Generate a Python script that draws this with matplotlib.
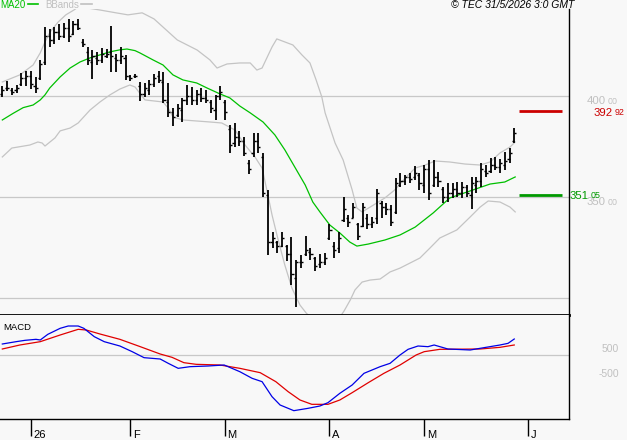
import matplotlib
matplotlib.use("Agg")
import matplotlib.pyplot as plt
from matplotlib.lines import Line2D
from matplotlib import transforms

W, H = 627, 440
BG = "#f8f8f8"
GRID = "#c8c8c8"
BAND = "#c4c4c4"
MA_GREEN = "#00c000"
FONT = ["Liberation Sans", "DejaVu Sans"]

# ---- daily bars (bar index 0..108) ----
high = [405.1, 407.6, 404.1, 405.6, 411.6, 412.6, 412.6, 409.6, 418.0, 434.3,
        433.3, 434.3, 435.8, 436.3, 438.3, 437.3, 438.3, 428.4, 424.4, 422.9,
        421.9, 423.9, 423.4, 434.8, 421.0, 424.4, 420.5, 410.6, 411.1, 407.1,
        406.6, 408.1, 411.1, 412.6, 412.1, 406.6, 394.2, 396.2, 399.2, 405.6,
        404.6, 403.1, 404.1, 403.1, 398.2, 400.7, 405.1, 398.2, 385.8, 386.8,
        382.9, 379.9, 368.5, 381.9, 381.9, 372.0, 353.7, 332.9, 328.4, 332.9,
        326.4, 330.4, 319.0, 321.5, 330.9, 324.9, 320.5, 322.0, 322.5, 336.8,
        327.9, 332.9, 350.2, 341.3, 347.2, 337.3, 347.2, 341.8, 340.3, 354.1,
        348.2, 347.2, 346.2, 359.6, 362.1, 361.1, 362.1, 365.5, 362.1, 366.0,
        368.5, 368.5, 362.6, 355.1, 357.1, 357.1, 357.6, 357.6, 356.1, 360.1,
        360.1, 367.0, 366.0, 369.5, 370.0, 369.0, 372.5, 374.4, 384.3]
low = [399.7, 402.7, 400.7, 401.7, 405.1, 405.1, 403.6, 401.7, 408.1, 415.5,
       424.4, 425.9, 427.9, 428.9, 426.9, 430.4, 432.9, 424.4, 415.5, 408.6,
       415.5, 416.5, 419.0, 412.1, 412.1, 416.0, 408.1, 407.6, 409.1, 397.7,
       399.7, 400.7, 404.6, 406.6, 396.7, 389.8, 385.3, 389.8, 387.3, 395.7,
       395.7, 395.7, 397.2, 396.7, 391.8, 388.3, 398.2, 388.3, 372.0, 374.9,
       375.4, 370.5, 361.6, 370.0, 372.0, 350.2, 321.5, 325.0, 322.4, 325.4,
       318.5, 306.6, 295.7, 315.0, 321.0, 319.0, 313.5, 315.0, 316.5, 328.9,
       320.0, 322.5, 337.8, 335.3, 339.8, 328.9, 335.3, 334.4, 334.8, 336.8,
       339.8, 341.3, 335.8, 341.8, 355.1, 356.1, 357.1, 358.6, 353.7, 352.2,
       348.7, 355.1, 355.1, 347.2, 347.7, 349.7, 350.2, 349.7, 350.2, 344.2,
       352.2, 355.1, 360.1, 362.1, 363.6, 362.1, 363.6, 367.0, 376.9]
opens = [401, 404, 403, 403, 406, 409, 410, 405, 409, 417,
         430, 428, 432, 430, 434, 431, 436, 427, 422, 417,
         419, 418, 420, 422, 419, 418, 419, 410, 410, 405,
         401, 403, 406, 410, 407, 397, 392, 391, 393, 398,
         400, 398, 401, 399, 397, 393, 400, 397, 384, 377,
         380, 378, 367, 372, 378, 370, 351, 328, 328, 326,
         326, 322, 310, 318, 322, 323, 320, 317, 318, 330,
         326, 325, 339, 340, 340, 337, 336, 340, 337, 340,
         347, 345, 344, 343, 356, 358, 360, 360, 361, 356,
         364, 356, 360, 354, 350, 352, 354, 352, 355, 351,
         356, 358, 363, 363, 366, 365, 366, 369, 378]
closes = [403, 404, 402, 404, 409, 410, 406, 404, 416, 430,
          428, 432, 430, 434, 430, 436, 434, 426, 418, 420,
          418, 421, 421, 420, 418, 420, 410, 409, 410, 401,
          404, 406, 409, 408, 398, 392, 390, 394, 398, 400,
          398, 401, 399, 398, 394, 400, 402, 392, 376, 380,
          378, 372, 364, 378, 375, 352, 328, 330, 326, 330,
          322, 312, 318, 318, 324, 322, 316, 318, 320, 334,
          324, 330, 344, 338, 345, 331, 345, 337, 338, 352,
          345, 344, 338, 357, 358, 360, 359, 362, 357, 364,
          352, 360, 358, 350, 352, 354, 352, 355, 352, 357,
          358, 364, 362, 366, 365, 367, 368, 372, 382]
bar_idx = list(range(len(high)))

# ---- MA20 and Bollinger bands ----
ma_idx = [0, 2.3, 4.4, 6.5, 8, 9, 10, 12.2, 14.3, 16.4, 18.5, 20.6, 22.7, 24.8, 26.3, 28,
          29, 31.8, 33.9, 36, 38.1, 41, 43.2, 45.9, 48, 50.1, 52.3, 55, 57.5, 59.6, 61.7,
          63.9, 65.5, 67, 69.1, 71.2, 73.3, 74.8, 77.2, 80.7, 83.9, 87.1, 90.9, 94.4,
          98.7, 102.9, 106, 108.2]
ma_val = [388.3, 391.6, 394.4, 395.7, 398.2, 400.7, 404.1, 409.6, 414.0, 417.0, 419.0,
          420.5, 422.0, 423.0, 423.4, 422.6, 421.5, 418.0, 415.5, 410.6, 408.1, 406.6,
          404.1, 401.2, 399.2, 395.2, 391.8, 387.3, 380.9, 373.5, 365.0, 356.1, 347.7,
          342.8, 336.3, 332.4, 327.9, 325.9, 326.9, 328.9, 331.4, 335.3, 342.3, 349.7,
          353.2, 356.6, 357.6, 360.1]

bbu_idx = [0, 3.7, 6.5, 8.0, 9.0, 10.1, 11.8, 13.4, 15.1, 16.8, 18.5, 20.6, 24.0, 26.5,
           29.5, 32.0, 36.9, 41.1, 43.8, 45.3, 47.4, 50.1, 52.3, 53.7, 54.8, 55.4, 56.9,
           57.9, 61.3, 63.2, 64.9, 66.2, 67.4, 68.1, 70.2, 71.9, 73.8, 74.8, 75.9, 77.6,
           80.7, 82.8, 85.0, 87.1, 89.2, 91.3, 94.4, 97.6, 100.8, 102.9, 105.0, 107.1, 108.2]
bbu_val = [407.1, 410.6, 415.5, 421.5, 426.9, 431.9, 436.8, 440.3, 442.7, 445.5, 443.5,
           442.7, 441.3, 440.3, 441.3, 438.3, 427.9, 422.9, 418.0, 414.0, 416.0, 416.5,
           416.5, 413.0, 414.0, 417.0, 424.4, 428.4, 425.4, 420.5, 416.5, 408.1, 399.7,
           391.8, 376.9, 368.5, 353.7, 344.7, 342.8, 345.2, 349.7, 353.7, 359.6, 364.5,
           366.0, 368.0, 367.5, 366.5, 366.0, 367.5, 372.0, 374.9, 377.4]

bbl_idx = [0, 2.0, 5.8, 7.5, 8.4, 9.0, 11.1, 12.2, 14.3, 16.0, 18.5, 20.6, 22.7, 24.8,
           26.9, 28.0, 30.1, 33.9, 35.0, 36.0, 38.1, 43.8, 46.3, 49.1, 51.2, 53.3, 54.8,
           55.8, 56.9, 58.2, 59.6, 61.1, 62.8, 64.1, 66.0, 68.7, 70.8, 72.1, 73.4, 74.4,
           75.9, 77.6, 79.7, 81.8, 83.9, 86.0, 88.1, 90.2, 92.3, 95.9, 98.7, 100.8, 102.5,
           105.0, 107.1, 108.2]
bbl_val = [370.0, 374.4, 375.9, 377.4, 376.9, 375.4, 379.4, 382.9, 384.3, 386.8, 393.2,
           397.2, 400.7, 403.6, 405.6, 404.6, 398.2, 397.2, 394.2, 389.8, 388.3, 387.3,
           386.8, 383.3, 375.9, 370.0, 364.5, 353.7, 341.3, 328.9, 316.5, 305.1, 296.7,
           292.8, 288.3, 285.8, 289.3, 293.8, 299.2, 304.2, 308.1, 309.1, 309.6, 313.1,
           315.0, 317.5, 320.0, 324.9, 329.9, 333.9, 340.3, 345.2, 348.2, 347.7, 345.2,
           342.8]

# ---- MACD (blue) and signal (red) ----
macd_idx = [0, 2.9, 4.8, 7.1, 8.0, 9.6, 12.2, 13.9, 16.0, 17.2, 19.4, 21.5, 24.8, 27.4,
            29.9, 33.3, 35.0, 37.1, 39.6, 43.4, 46.8, 50.1, 52.7, 54.8, 56.9, 58.6, 61.5,
            64.5, 67.0, 68.7, 71.2, 73.8, 76.3, 79.7, 81.8, 83.9, 85.6, 87.7, 89.8, 91.1,
            94.0, 98.7, 101.6, 105.0, 106.7, 108.0]
macd_val = [440, 533, 587, 627, 600, 827, 1067, 1160, 1160, 1067, 733, 533, 360, 133,
            -107, -160, -333, -533, -467, -440, -400, -667, -933, -1067, -1667, -2000,
            -2227, -2133, -2040, -1907, -1533, -1200, -733, -467, -333, 0, 227, 360, 333,
            400, 240, 200, 293, 400, 467, 640]
sig_idx = [0, 3.7, 8.0, 12.2, 16.0, 17.7, 20.6, 24.8, 29.1, 33.3, 35.8, 38.3, 40.9, 45.9,
           50.1, 54.4, 57.7, 60.3, 62.8, 65.3, 68.7, 71.2, 73.8, 77.2, 80.5, 83.9, 87.3,
           89.0, 92.3, 100.8, 105.0, 108.0]
sig_val = [240, 400, 533, 800, 1027, 1000, 840, 627, 333, 40, -93, -307, -373, -400,
           -533, -707, -1067, -1467, -1800, -1973, -1973, -1800, -1507, -1107, -733, -400,
           0, 133, 227, 240, 307, 400]

# ---- axis texts ----
month_pos = [6, 27, 47, 69, 89, 111]
month_lab = ["26", "F", "M", "A", "M", "J"]
price_grid = [400, 350, 300]
price_lab = [400, 350]
macd_lab = [500, -500]
levels = [392.92, 351.05]
level_col = ["#cc0000", "#009900"]

fig = plt.figure(figsize=(W / 100, H / 100), dpi=100, facecolor=BG)
ax = fig.add_axes([0, 1 - 315 / H, 569 / W, 306 / H], facecolor=BG)
mx = fig.add_axes([0, 1 - 419 / H, 569 / W, 104 / H], facecolor=BG)

XL = (-0.49, 119.55)
for a in (ax, mx):
    a.set_xlim(*XL)
    a.spines["top"].set_visible(False)
    a.spines["left"].set_visible(False)
    a.spines["right"].set_color("black")
    a.spines["right"].set_linewidth(1.0)
    a.set_yticks([])
ax.set_xticks([])
ax.spines["bottom"].set_linewidth(2.0)
mx.spines["bottom"].set_linewidth(1.0)

ax.set_ylim(291.8, 443.2)
mx.set_ylim(-2560, 1600)

for g in price_grid:
    ax.axhline(g, color=GRID, lw=0.9, zorder=0)
mx.axhline(0, color=GRID, lw=0.9, zorder=0)

# bands and MA
ax.plot(bbu_idx, bbu_val, color=BAND, lw=0.9, zorder=1)
ax.plot(bbl_idx, bbl_val, color=BAND, lw=0.9, zorder=1)
ax.plot(ma_idx, ma_val, color=MA_GREEN, lw=0.9, zorder=2)

# OHLC bars
ax.vlines(bar_idx, low, high, color="black", lw=1.3, zorder=3)
ax.hlines(opens, [i - 0.45 for i in bar_idx], bar_idx, color="black", lw=1.0, zorder=3)
ax.hlines(closes, bar_idx, [i + 0.45 for i in bar_idx], color="black", lw=1.0, zorder=3)

# horizontal levels on the right
for v, c in zip(levels, level_col):
    ax.hlines(v, 109, 118.1, color=c, lw=2.0, zorder=3)


def two_part(axis, x, y, whole, frac, color, va, dy=0.0, size=8.2):
    tr = transforms.offset_copy(axis.get_yaxis_transform(), fig, y=dy, units="dots")
    t = axis.text(x, y, whole, transform=tr, color=color, fontsize=size, va=va,
                  ha="left", family=FONT, clip_on=False)
    axis.annotate(frac, xy=(1, 1), xycoords=t, xytext=(1.2, -0.2),
                  textcoords="offset points", color=color, fontsize=size * 0.78,
                  va="top", ha="left", family=FONT, annotation_clip=False)


for p in price_lab:
    two_part(ax, 587 / 569, p, f"{p:d}", "00", "#c0c0c0", "top")
two_part(ax, 594 / 569, levels[0], f"{int(levels[0])}", f"{levels[0]:.2f}".split(".")[1],
         level_col[0], "center", dy=-2.5)
two_part(ax, 570 / 569, levels[1], f"{int(levels[1])}", f"{levels[1]:.2f}".split(".")[1],
         level_col[1], "center", dy=-0.5)

# MACD lines
mx.plot(sig_idx, sig_val, color="#e00000", lw=0.9, zorder=2)
mx.plot(macd_idx, macd_val, color="#0000e6", lw=0.9, zorder=3)
mx.text(3 / 569, 0.92, "MACD", transform=mx.transAxes, fontsize=6.8, va="top",
        ha="left", family=FONT)
myt = mx.get_yaxis_transform()
for v in macd_lab:
    mx.text(619 / 569, v, f"{v:d}", transform=transforms.offset_copy(myt, fig, y=-1.5, units="dots"),
            color="#c0c0c0", fontsize=7.4, va="top", ha="right", family=FONT, clip_on=False)

# month ticks and labels
mx.set_xticks(month_pos)
mx.set_xticklabels([])
mx.tick_params(axis="x", direction="out", length=12.3, width=1.0, color="black")
mxt = transforms.offset_copy(mx.get_xaxis_transform(), fig, x=2.5, y=-10.5, units="dots")
for pos, lab in zip(month_pos, month_lab):
    mx.text(pos, 0, lab, transform=mxt, fontsize=8, va="top", ha="left", family=FONT,
            clip_on=False)

# legend strip above the price panel
handles = [Line2D([], [], color=MA_GREEN, lw=1.2), Line2D([], [], color="#c0c0c0", lw=1.2)]
ax.legend(handles, ["MA20", "BBands"], loc="lower left", bbox_to_anchor=(0, 0.998),
          ncol=2, frameon=False, markerfirst=False, handlelength=1.1, handletextpad=0.25,
          columnspacing=0.7, borderaxespad=0, borderpad=0, labelcolor="linecolor",
          prop={"family": FONT, "size": 7})
fig.text(574 / W, 1 - 0.5 / H, "\u00a9 TEC 31/5/2026 3:0 GMT", ha="right", va="top",
         style="italic", fontsize=7.5, family=FONT)

fig.savefig("out.png", dpi=100, facecolor=BG)
